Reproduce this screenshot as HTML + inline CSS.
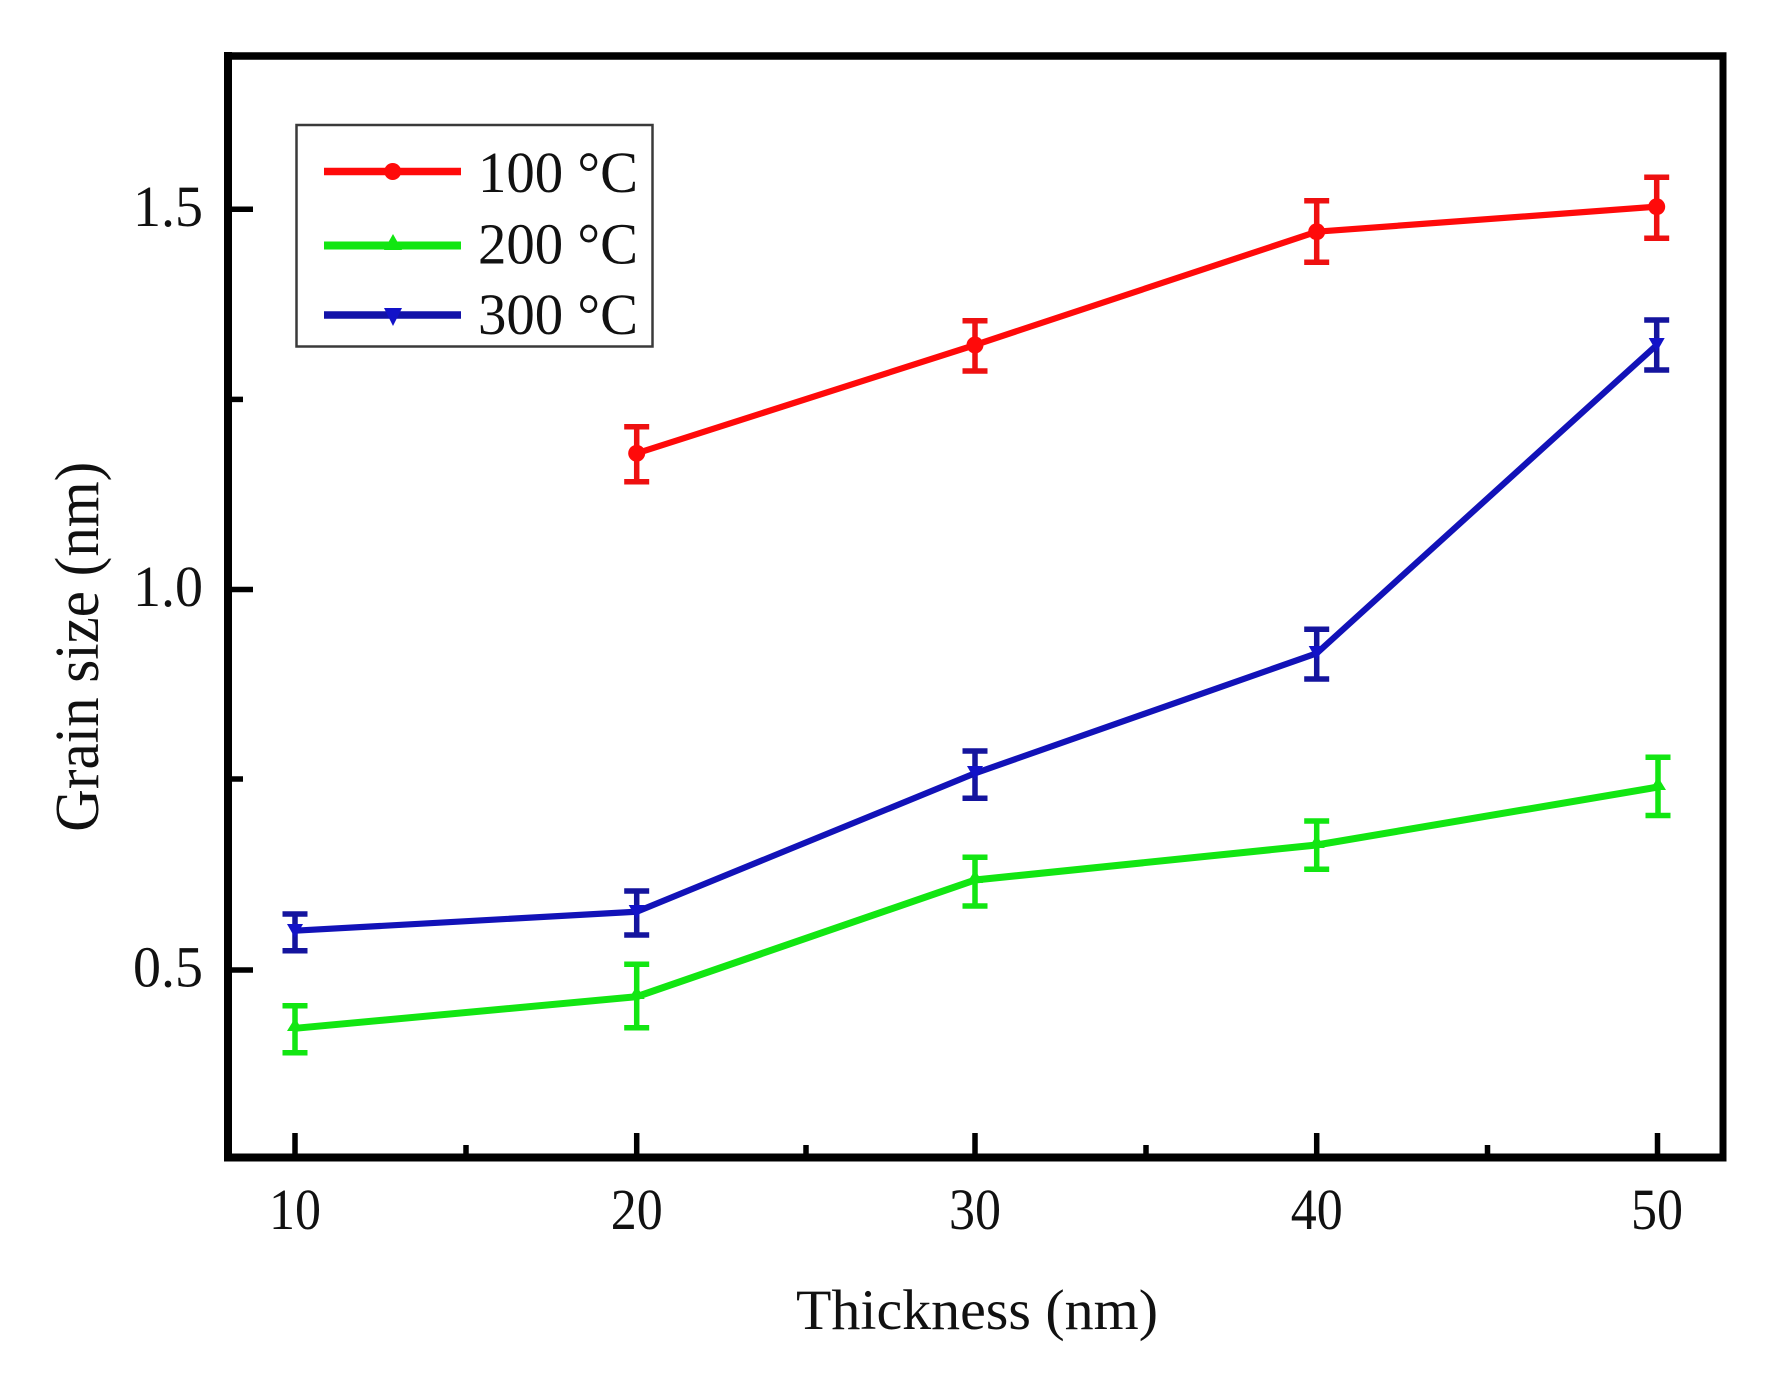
<!DOCTYPE html>
<html>
<head>
<meta charset="utf-8">
<style>
  html, body { margin:0; padding:0; background:#ffffff; }
  body { width:1770px; height:1374px; overflow:hidden; }
  svg { display:block; }
  text { font-family: "Liberation Serif", "Times New Roman", serif; fill:#111; }
</style>
</head>
<body>
<svg width="1770" height="1374" viewBox="0 0 1770 1374" xmlns="http://www.w3.org/2000/svg">
  <rect x="0" y="0" width="1770" height="1374" fill="#ffffff"/>

  <!-- Data lines -->
  <g fill="none" stroke-linejoin="round" stroke-linecap="round">
    <polyline stroke="#ff0a0a" stroke-width="6.2"
      points="636.7,453.3 975,345 1316.7,231.7 1656.7,206.7"/>
    <polyline stroke="#12e612" stroke-width="7"
      points="295,1028.3 636.7,996.7 975,880 1316.7,845 1658,787"/>
    <polyline stroke="#1212b8" stroke-width="6.2"
      points="295,930.7 636.7,911.7 975,773.3 1316.7,653.3 1656.7,345"/>
  </g>

  <!-- Error bars -->
  <g stroke-width="5.5" fill="none">
    <g stroke="#ee1010">
      <path d="M636.7,426.7 V481.7 M624.2,426.7 H649.2 M624.2,481.7 H649.2"/>
      <path d="M975,320.7 V371 M962.5,320.7 H987.5 M962.5,371 H987.5"/>
      <path d="M1316.7,200.7 V262.3 M1304.2,200.7 H1329.2 M1304.2,262.3 H1329.2"/>
      <path d="M1656.7,177.3 V238.3 M1644.2,177.3 H1669.2 M1644.2,238.3 H1669.2"/>
    </g>
    <g stroke="#12e612">
      <path d="M295,1005.7 V1052.7 M282.5,1005.7 H307.5 M282.5,1052.7 H307.5"/>
      <path d="M636.7,964.3 V1027.7 M624.2,964.3 H649.2 M624.2,1027.7 H649.2"/>
      <path d="M975,857.3 V906 M962.5,857.3 H987.5 M962.5,906 H987.5"/>
      <path d="M1316.7,821 V869.3 M1304.2,821 H1329.2 M1304.2,869.3 H1329.2"/>
      <path d="M1658,757.2 V815.5 M1645.5,757.2 H1670.5 M1645.5,815.5 H1670.5"/>
    </g>
    <g stroke="#14149e">
      <path d="M295,914 V950.7 M282.5,914 H307.5 M282.5,950.7 H307.5"/>
      <path d="M636.7,891 V935 M624.2,891 H649.2 M624.2,935 H649.2"/>
      <path d="M975,751 V798.3 M962.5,751 H987.5 M962.5,798.3 H987.5"/>
      <path d="M1316.7,629.3 V679 M1304.2,629.3 H1329.2 M1304.2,679 H1329.2"/>
      <path d="M1656.7,320 V370 M1644.2,320 H1669.2 M1644.2,370 H1669.2"/>
    </g>
  </g>

  <!-- Markers -->
  <g fill="#ff0a0a">
    <circle cx="636.7" cy="453.3" r="8.5"/>
    <circle cx="975" cy="345" r="8.5"/>
    <circle cx="1316.7" cy="231.7" r="8.5"/>
    <circle cx="1656.7" cy="206.7" r="8.5"/>
  </g>
  <g fill="#12e612">
    <path d="M295,1018 l8,13 h-16 z"/>
    <path d="M636.7,986 l8,13 h-16 z"/>
    <path d="M975,870 l8,13 h-16 z"/>
    <path d="M1316.7,835 l8,13 h-16 z"/>
    <path d="M1658,777 l8,13 h-16 z"/>
  </g>
  <g fill="#1212c8">
    <path d="M287,924 h16 l-8,14 z"/>
    <path d="M628.7,905 h16 l-8,14 z"/>
    <path d="M967,766 h16 l-8,14 z"/>
    <path d="M1308.7,646 h16 l-8,14 z"/>
    <path d="M1648.7,338 h16 l-8,14 z"/>
  </g>

  <!-- Axis frame -->
  <g stroke="#000" fill="none">
    <line x1="228" y1="52" x2="228" y2="1161.5" stroke-width="8"/>
    <line x1="224" y1="1157.5" x2="1726.5" y2="1157.5" stroke-width="8"/>
    <line x1="224" y1="56" x2="1726.5" y2="56" stroke-width="7.5"/>
    <line x1="1723" y1="52.5" x2="1723" y2="1161.5" stroke-width="7"/>
  </g>

  <!-- X ticks -->
  <g stroke="#000" stroke-width="5.5">
    <line x1="295" y1="1157" x2="295" y2="1133"/>
    <line x1="636.7" y1="1157" x2="636.7" y2="1133"/>
    <line x1="975" y1="1157" x2="975" y2="1133"/>
    <line x1="1316.7" y1="1157" x2="1316.7" y2="1133"/>
    <line x1="1657.5" y1="1157" x2="1657.5" y2="1133"/>
    <line x1="466" y1="1157" x2="466" y2="1145"/>
    <line x1="806" y1="1157" x2="806" y2="1145"/>
    <line x1="1146" y1="1157" x2="1146" y2="1145"/>
    <line x1="1487.5" y1="1157" x2="1487.5" y2="1145"/>
  </g>

  <!-- Y ticks -->
  <g stroke="#000" stroke-width="5.5">
    <line x1="228" y1="209.3" x2="253" y2="209.3"/>
    <line x1="228" y1="589.5" x2="253" y2="589.5"/>
    <line x1="228" y1="970" x2="253" y2="970"/>
    <line x1="228" y1="399.4" x2="243" y2="399.4"/>
    <line x1="228" y1="779" x2="243" y2="779"/>
  </g>

  <!-- X tick labels -->
  <g font-size="58" text-anchor="middle">
    <text x="295" y="1229" textLength="52" lengthAdjust="spacingAndGlyphs">10</text>
    <text x="636.7" y="1229" textLength="52" lengthAdjust="spacingAndGlyphs">20</text>
    <text x="975" y="1229" textLength="52" lengthAdjust="spacingAndGlyphs">30</text>
    <text x="1316.7" y="1229" textLength="52" lengthAdjust="spacingAndGlyphs">40</text>
    <text x="1657" y="1229" textLength="52" lengthAdjust="spacingAndGlyphs">50</text>
  </g>

  <!-- Y tick labels -->
  <g font-size="58" text-anchor="end">
    <text x="203" y="226" textLength="70" lengthAdjust="spacingAndGlyphs">1.5</text>
    <text x="203" y="606" textLength="70" lengthAdjust="spacingAndGlyphs">1.0</text>
    <text x="203" y="986.5" textLength="70" lengthAdjust="spacingAndGlyphs">0.5</text>
  </g>

  <!-- Axis titles -->
  <text x="977" y="1329" font-size="57" text-anchor="middle" textLength="362" lengthAdjust="spacingAndGlyphs">Thickness (nm)</text>
  <text transform="translate(98,646.7) rotate(-90)" x="0" y="0" font-size="62" text-anchor="middle" textLength="370" lengthAdjust="spacingAndGlyphs">Grain size (nm)</text>

  <!-- Legend -->
  <rect x="296.5" y="125" width="356" height="221.5" fill="#ffffff" stroke="#3a3a3a" stroke-width="2.5"/>
  <line x1="324" y1="171.5" x2="461" y2="171.5" stroke="#ff0a0a" stroke-width="7.5"/>
  <circle cx="392.7" cy="171.5" r="8.5" fill="#ff0a0a"/>
  <line x1="324" y1="245.5" x2="461" y2="245.5" stroke="#12e612" stroke-width="8"/>
  <path d="M393,234 l9,16 h-18 z" fill="#12e612"/>
  <line x1="324" y1="315" x2="461" y2="315" stroke="#1212a8" stroke-width="7.5"/>
  <path d="M384,308 h18 l-9,18 z" fill="#1212c8"/>

  <g font-size="58">
    <text x="478" y="192" textLength="160" lengthAdjust="spacingAndGlyphs">100 °C</text>
    <text x="478" y="263.5" textLength="160" lengthAdjust="spacingAndGlyphs">200 °C</text>
    <text x="478" y="334" textLength="160" lengthAdjust="spacingAndGlyphs">300 °C</text>
  </g>
</svg>
</body>
</html>
